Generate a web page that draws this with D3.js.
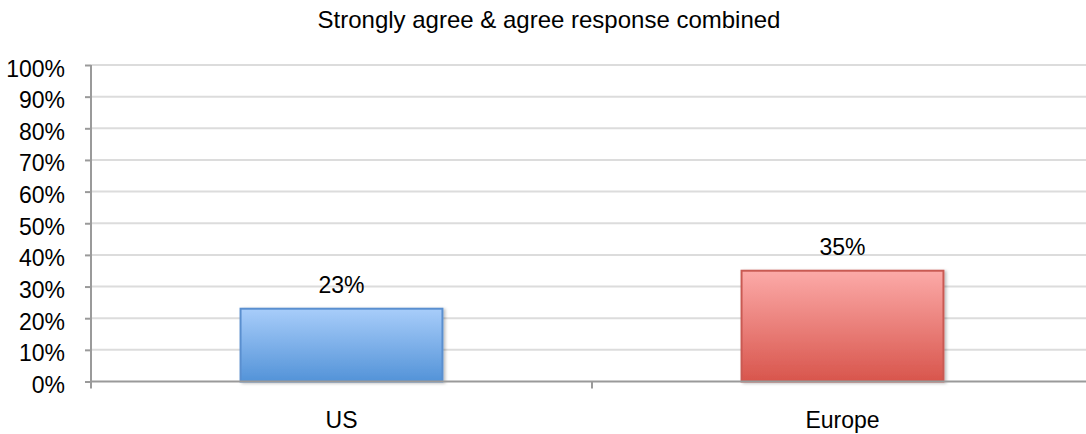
<!DOCTYPE html>
<html>
<head>
<meta charset="utf-8">
<script src="https://cdn.jsdelivr.net/npm/d3@7"></script>
<style>
  body { margin: 0; background: #fff; }
  svg text { font-family: "Liberation Sans", Arial, sans-serif; fill: #000; }
</style>
</head>
<body>
<div id="chart"></div>
<script>
var categories = ["US", "Europe"];
var values = [0.23, 0.35];
var yTicks = [0, 0.1, 0.2, 0.3, 0.4, 0.5, 0.6, 0.7, 0.8, 0.9, 1.0];
var titleText = "Strongly agree & agree response combined";

var width = 1086, height = 434;
var margin = {top: 65, right: -7, bottom: 52.5, left: 91};
var innerW = width - margin.left - margin.right,
    innerH = height - margin.top - margin.bottom;

var svg = d3.select("#chart").append("svg").attr("width", width).attr("height", height);
var defs = svg.append("defs");

var grads = [
  {id: "gBlue", top: "#a8cdfa", bottom: "#5393d8", stroke: "#5a8fcf"},
  {id: "gRed", top: "#fcaaa8", bottom: "#d8554c", stroke: "#c95a53"}
];
grads.forEach(function(g) {
  var lg = defs.append("linearGradient").attr("id", g.id).attr("x1", 0).attr("y1", 0).attr("x2", 0).attr("y2", 1);
  lg.append("stop").attr("offset", "0%").attr("stop-color", g.top);
  lg.append("stop").attr("offset", "100%").attr("stop-color", g.bottom);
});
var f = defs.append("filter").attr("id", "shadow").attr("x", "-10%").attr("y", "-10%").attr("width", "130%").attr("height", "130%");
f.append("feDropShadow").attr("dx", 2).attr("dy", 1).attr("stdDeviation", 1.5).attr("flood-color", "#000").attr("flood-opacity", 0.25);

var g = svg.append("g").attr("transform", "translate(" + margin.left + "," + margin.top + ")");

var x = d3.scaleBand().domain(categories).range([0, innerW]).paddingInner(0.597).paddingOuter(0.2985);
var xCat = d3.scaleBand().domain(categories).range([0, innerW]);
var y = d3.scaleLinear().domain([0, 1]).range([innerH, 0]);

// gridlines
g.append("g").selectAll("line").data(yTicks.filter(function(d) { return d > 0; })).enter().append("line")
  .attr("x1", 0).attr("x2", innerW)
  .attr("y1", function(d) { return y(d); }).attr("y2", function(d) { return y(d); })
  .attr("stroke", "#dcdcdc").attr("stroke-width", 2);

// bars
g.append("g").selectAll("rect").data(values).enter().append("rect")
  .attr("x", function(d, i) { return x(categories[i]); })
  .attr("y", function(d) { return y(d); })
  .attr("width", x.bandwidth())
  .attr("height", function(d) { return innerH - y(d); })
  .attr("fill", function(d, i) { return "url(#" + grads[i].id + ")"; })
  .attr("stroke", function(d, i) { return grads[i].stroke; })
  .attr("stroke-width", 2)
  .attr("filter", "url(#shadow)");

// value labels
g.append("g").selectAll("text").data(values).enter().append("text")
  .attr("x", function(d, i) { return x(categories[i]) + x.bandwidth() / 2; })
  .attr("y", function(d) { return y(d) - 16; })
  .attr("text-anchor", "middle")
  .style("font-size", "23px")
  .text(function(d) { return Math.round(d * 100) + "%"; });

// y axis
var yAxis = d3.axisLeft(y).tickValues(yTicks).tickFormat(d3.format(".0%")).tickSize(6).tickPadding(20);
var ya = g.append("g").call(yAxis);
ya.select(".domain").attr("stroke", "#9a9a9a").attr("stroke-width", 2).attr("d", "M0,0V" + innerH);
ya.selectAll(".tick line").attr("stroke", "#9a9a9a").attr("stroke-width", 2);
ya.selectAll(".tick text").style("font-size", "23px").attr("dy", "0.48em").style("font-family", "Liberation Sans, Arial, sans-serif");

// x axis
var xa = g.append("g").attr("transform", "translate(0," + innerH + ")");
xa.append("line").attr("x1", 0).attr("x2", innerW).attr("y1", 0).attr("y2", 0)
  .attr("stroke", "#9a9a9a").attr("stroke-width", 2);
xa.selectAll("line.tk").data([0, 1, 2]).enter().append("line").attr("class", "tk")
  .attr("x1", function(d) { return d * xCat.step(); }).attr("x2", function(d) { return d * xCat.step(); })
  .attr("y1", 0).attr("y2", 7)
  .attr("stroke", "#9a9a9a").attr("stroke-width", 2);
xa.selectAll("text").data(categories).enter().append("text")
  .attr("x", function(d) { return xCat(d) + xCat.bandwidth() / 2; })
  .attr("y", 46.5)
  .attr("text-anchor", "middle")
  .style("font-size", "23px")
  .text(function(d) { return d; });

// title
svg.append("text").attr("x", 549).attr("y", 28).attr("text-anchor", "middle")
  .style("font-size", "24px").text(titleText);
</script>
</body>
</html>
